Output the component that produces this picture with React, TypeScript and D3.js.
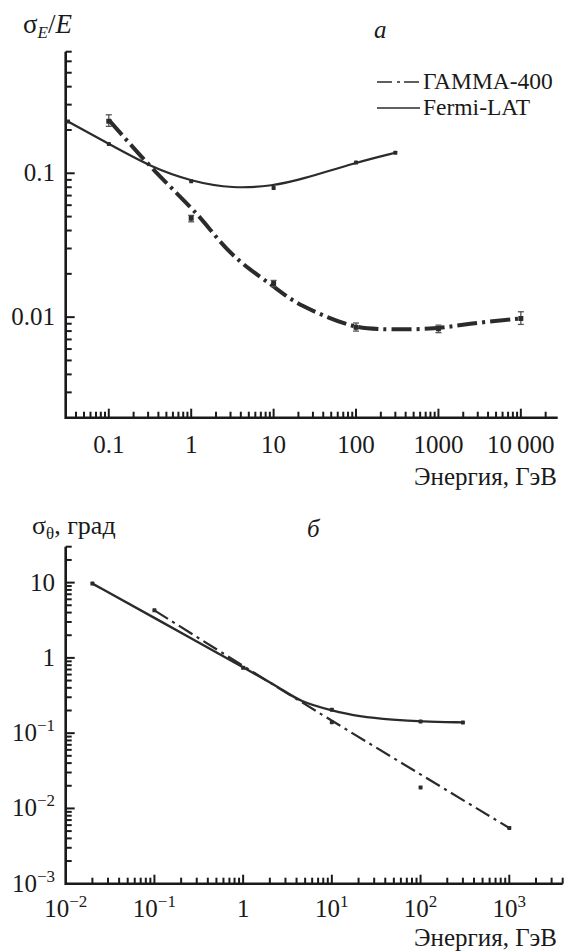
import React from 'react';
import * as d3 from 'd3';

// ---- panel a: energy resolution ----
const gammaE_a = [0.1, 1, 10, 100, 1000, 10000];
const gammaRes_a = [0.23, 0.0486, 0.0171, 0.0085, 0.0083, 0.0098];
const gammaErr_a = [[0.212, 0.255], [0.046, 0.051], [0.0163, 0.018], [0.008, 0.0091], [0.0078, 0.0088], [0.0089, 0.0109]];
const gammaFitE_a = [0.1, 0.2, 0.33, 0.73, 1.27, 2, 3.2, 5.1, 9, 14, 21, 48, 92, 160, 900, 2200, 10000];
const gammaFitRes_a = [0.235, 0.15, 0.109, 0.069, 0.05, 0.036, 0.0268, 0.0215, 0.0171, 0.0141, 0.0121, 0.0098, 0.0086, 0.0082, 0.0082, 0.009, 0.0098];

const fermiE_a = [0.032, 0.1, 1, 10, 100, 300];
const fermiRes_a = [0.229, 0.16, 0.088, 0.079, 0.1186, 0.139];
const fermiFitE_a = [0.032, 0.1, 0.33, 1, 3.2, 10, 21, 100, 300];
const fermiFitRes_a = [0.229, 0.16, 0.11, 0.088, 0.078, 0.082, 0.09, 0.119, 0.139];

const xTicks_a = [0.1, 1, 10, 100, 1000, 10000];
const xLabels_a = ['0.1', '1', '10', '100', '1000', '10\u2009000'];
const yTicks_a = [0.1, 0.01];
const yLabels_a = ['0.1', '0.01'];

// ---- panel б: angular resolution ----
const gammaE_b = [0.1, 1, 10, 100, 1000];
const gammaRes_b = [4.28, 0.74, 0.14, 0.019, 0.0055];
const gammaFitE_b = [0.1, 1, 10, 1000];
const gammaFitRes_b = [4.28, 0.78, 0.145, 0.0055];

const fermiE_b = [0.02, 10, 100, 300];
const fermiRes_b = [9.7, 0.205, 0.143, 0.139];
const fermiFitE_b = [0.02, 0.1, 1, 2.6, 4.4, 10, 20, 50, 100, 300];
const fermiFitRes_b = [9.7, 3.4, 0.75, 0.4, 0.26, 0.2, 0.166, 0.15, 0.143, 0.139];

const xTicks_b = [0.01, 0.1, 1, 10, 100, 1000];
const xLabels_b = [['10', '\u22122'], ['10', '\u22121'], ['1', ''], ['10', '1'], ['10', '2'], ['10', '3']];
const yTicks_b = [0.001, 0.01, 0.1, 1, 10];
const yLabels_b = [['10', '\u22123'], ['10', '\u22122'], ['10', '\u22121'], ['1', ''], ['10', '']];

const FONT = "'Liberation Serif', 'Times New Roman', Tinos, 'DejaVu Serif', serif";
const INK = '#1a1a1a';
const LINE = '#2b2b2b';
const FS = 25;

function isDecade(v: number) {
  const l = Math.log10(v);
  return Math.abs(l - Math.round(l)) < 1e-6;
}

function Label({ parts, x, y, anchor }: { parts: string[]; x: number; y: number; anchor: string }) {
  return (
    <text x={x} y={y} textAnchor={anchor} style={{ fontFamily: FONT }} fontSize={FS} fill={INK}>
      {parts[0]}
      {parts[1] ? (
        <tspan fontSize={17} dy={-10}>{parts[1]}</tspan>
      ) : null}
    </text>
  );
}

function Axes({ x, y, xLabs, yLabs, xTickVals, yTickVals, xLabY, supers }: any) {
  const [x0, x1] = x.range();
  const [y0, y1] = y.range();
  const xt = x.ticks().filter((t: number) => t > x.domain()[0] * 1.0001 && t <= x.domain()[1]);
  const yt = y.ticks().filter((t: number) => t > y.domain()[0] * 1.0001 && t <= y.domain()[1]);
  return (
    <g>
      {xt.map((t: number, i: number) => (
        <line key={'xt' + i} x1={x(t)} x2={x(t)} y1={y0} y2={y0 - (isDecade(t) ? 9 : 6)} stroke={INK} strokeWidth={2} />
      ))}
      {yt.map((t: number, i: number) => (
        <line key={'yt' + i} x1={x0} x2={x0 + (isDecade(t) ? 9 : 6)} y1={y(t)} y2={y(t)} stroke={INK} strokeWidth={2} />
      ))}
      <path d={`M${x0},${y1}V${y0}H${x1}`} fill="none" stroke={INK} strokeWidth={2.6} />
      {xTickVals.map((t: number, i: number) => (
        <Label key={'xl' + i} parts={supers ? xLabs[i] : [xLabs[i]]} x={x(t)} y={xLabY} anchor="middle" />
      ))}
      {yTickVals.map((t: number, i: number) => (
        <Label key={'yl' + i} parts={supers ? yLabs[i] : [yLabs[i]]} x={55} y={y(t) + 8} anchor="end" />
      ))}
    </g>
  );
}

function Markers({ x, y, es, vs, size }: any) {
  return (
    <g fill={LINE}>
      {es.map((e: number, i: number) => (
        <rect key={i} x={x(e) - size / 2} y={y(vs[i]) - size / 2} width={size} height={size} rx={0.6} />
      ))}
    </g>
  );
}

function ErrBars({ x, y, es, errs }: any) {
  return (
    <g stroke="#555" strokeWidth={1.3}>
      {es.map((e: number, i: number) => {
        const cx = x(e);
        const a = y(errs[i][0]);
        const b = y(errs[i][1]);
        return (
          <g key={i}>
            <line x1={cx} x2={cx} y1={a} y2={b} />
            <line x1={cx - 3} x2={cx + 3} y1={a} y2={a} />
            <line x1={cx - 3} x2={cx + 3} y1={b} y2={b} />
          </g>
        );
      })}
    </g>
  );
}

export default function App() {
  // panel a scales
  const xa = d3.scaleLog().domain([0.03, 28000]).range([65.7, 557.7]);
  const ya = d3.scaleLog().domain([0.002, 0.7]).range([417.7, 51.7]);
  // panel б scales
  const xb = d3.scaleLog().domain([0.01, 4000]).range([65.7, 562.7]);
  const yb = d3.scaleLog().domain([0.001, 30]).range([883.7, 546.7]);

  const smooth = d3.line<number>().curve(d3.curveBasis);
  const pathA = (es: number[], vs: number[]) => smooth.x((d, i) => xa(es[i])).y((d, i) => ya(vs[i]))(es) || '';
  const pathB = (es: number[], vs: number[]) => smooth.x((d, i) => xb(es[i])).y((d, i) => yb(vs[i]))(es) || '';

  const txt = { fontFamily: FONT };

  return (
    <svg width={576} height={952} style={{ position: 'absolute', left: 0, top: 0, background: '#fff', fontFamily: FONT }}>
      <rect width={576} height={952} fill="#fff" />

      {/* ---------- panel a ---------- */}
      <text x={23} y={33} style={txt} fontSize={27} fill={INK}>
        σ<tspan fontSize={17} fontStyle="italic" dy={5}>E</tspan>
        <tspan dy={-5}>/</tspan><tspan fontStyle="italic">E</tspan>
      </text>
      <text x={374} y={38} style={txt} fontSize={25} fontStyle="italic" fill={INK}>а</text>

      <Axes x={xa} y={ya} xLabs={xLabels_a} yLabs={yLabels_a} xTickVals={xTicks_a} yTickVals={yTicks_a} xLabY={453} supers={false} />

      <path d={pathA(fermiFitE_a, fermiFitRes_a)} fill="none" stroke={LINE} strokeWidth={2.2} />
      <Markers x={xa} y={ya} es={fermiE_a} vs={fermiRes_a} size={4} />

      <path d={pathA(gammaFitE_a, gammaFitRes_a)} fill="none" stroke={LINE} strokeWidth={4} strokeDasharray="20 5 3 5" />
      <ErrBars x={xa} y={ya} es={gammaE_a} errs={gammaErr_a} />
      <Markers x={xa} y={ya} es={gammaE_a} vs={gammaRes_a} size={5} />

      {/* legend */}
      <line x1={377} x2={420} y1={82} y2={82} stroke={LINE} strokeWidth={1.6} strokeDasharray="15 5 3 4" />
      <text x={423} y={89} style={txt} fontSize={23.5} fill={INK}>ГАММА-400</text>
      <line x1={377} x2={420} y1={108} y2={108} stroke={LINE} strokeWidth={1.6} />
      <text x={423} y={115} style={txt} fontSize={23.5} fill={INK}>Fermi-LAT</text>

      <text x={557} y={485} textAnchor="end" style={txt} fontSize={FS} fill={INK}>Энергия, ГэВ</text>

      {/* ---------- panel б ---------- */}
      <text x={32} y={534} style={txt} fontSize={26} fill={INK}>
        σ<tspan fontSize={17} dy={5}>θ</tspan><tspan dy={-5}>, град</tspan>
      </text>
      <text x={307} y={537} style={txt} fontSize={25} fontStyle="italic" fill={INK}>б</text>

      <Axes x={xb} y={yb} xLabs={xLabels_b} yLabs={yLabels_b} xTickVals={xTicks_b} yTickVals={yTicks_b} xLabY={917} supers={true} />

      <path d={pathB(fermiFitE_b, fermiFitRes_b)} fill="none" stroke={LINE} strokeWidth={2.4} />
      <Markers x={xb} y={yb} es={fermiE_b} vs={fermiRes_b} size={4} />

      <path d={pathB(gammaFitE_b, gammaFitRes_b)} fill="none" stroke={LINE} strokeWidth={2.2} strokeDasharray="16 5 3 5" />
      <Markers x={xb} y={yb} es={gammaE_b} vs={gammaRes_b} size={4} />

      <text x={557} y={946} textAnchor="end" style={txt} fontSize={FS} fill={INK}>Энергия, ГэВ</text>
    </svg>
  );
}
